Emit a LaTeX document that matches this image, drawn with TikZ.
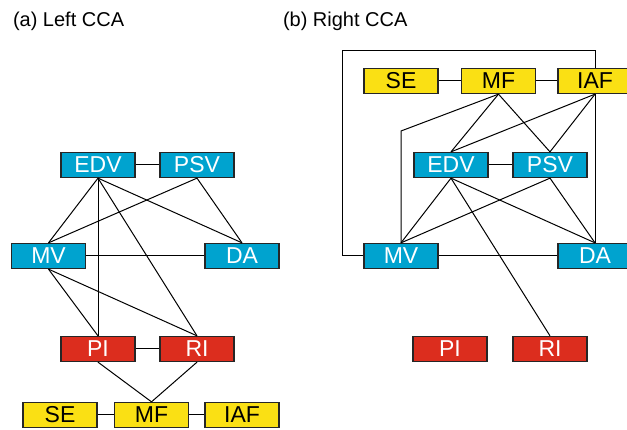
\documentclass[tikz,border=0pt]{standalone}
\usepackage{fontspec}
\setmainfont{Liberation Sans}
\definecolor{ccablue}{RGB}{0,163,207}
\definecolor{ccared}{RGB}{220,45,30}
\definecolor{ccayellow}{RGB}{250,224,20}

\begin{document}
\begin{tikzpicture}[x=1pt,y=1pt,line width=1pt]
\tikzstyle{every node}+=[inner sep=0pt]
\tikzstyle{cbox}=[draw=black!85,line width=1.3pt,minimum width=74pt,minimum height=25pt,font=\fontsize{23}{24}\selectfont]
\tikzstyle{bluebox}=[cbox,fill=ccablue,text=white]
\tikzstyle{redbox}=[cbox,fill=ccared,text=white]
\tikzstyle{yellowbox}=[cbox,fill=ccayellow,text=black]
\useasboundingbox (0,0) rectangle (627,-430);
\node [anchor=base west,font=\fontsize{20}{24}\selectfont] (ttla) at (12.5,-26.7) {(a) Left CCA};
\node [anchor=base west,font=\fontsize{20}{24}\selectfont] (ttlb) at (282.5,-26.7) {(b) Right CCA};
% (a) left
\node [bluebox] (edv) at (98,-165) {EDV};
\node [bluebox] (psv) at (197,-165) {PSV};
\node [bluebox] (mv) at (48.5,-256) {MV};
\node [bluebox] (da) at (242,-256) {DA};
\node [redbox] (pi) at (98,-349) {PI};
\node [redbox] (ri) at (197,-349) {RI};
\node [yellowbox] (se) at (60,-415) {SE};
\node [yellowbox] (mf) at (151.5,-415) {MF};
\node [yellowbox] (iaf) at (242,-415) {IAF};
\draw (edv) -- (psv);
\draw (mv) -- (da);
\draw (pi) -- (ri);
\draw (se) -- (mf);
\draw (mf) -- (iaf);
\draw (edv.south) -- (mv.north);
\draw (edv.south) -- (pi.north);
\draw (edv.south) -- (ri.north);
\draw (edv.south) -- (da.north);
\draw (psv.south) -- (mv.north);
\draw (psv.south) -- (da.north);
\draw (mv.south) -- (pi.north);
\draw (mv.south) -- (ri.north);
\draw (pi.south) -- (mf.north);
\draw (ri.south) -- (mf.north);
% (b) right
\node [yellowbox] (se2) at (401,-81) {SE};
\node [yellowbox] (mf2) at (498.5,-81) {MF};
\node [yellowbox] (iaf2) at (595,-81) {IAF};
\node [bluebox] (edv2) at (451,-165) {EDV};
\node [bluebox] (psv2) at (550,-165) {PSV};
\node [bluebox] (mv2) at (401,-256) {MV};
\node [bluebox] (da2) at (595,-256) {DA};
\node [redbox] (pi2) at (450,-349) {PI};
\node [redbox] (ri2) at (550,-349) {RI};
\coordinate (frame) at (342,-51);
\coordinate (bend) at (401,-131);
\draw (se2) -- (mf2);
\draw (mf2) -- (iaf2);
\draw (edv2) -- (psv2);
\draw (mv2) -- (da2);
\draw (iaf2.north) |- (frame) |- (mv2.west);
\draw (mf2.south) -- (bend) -- (mv2.north);
\draw (mf2.south) -- (edv2.north);
\draw (mf2.south) -- (psv2.north);
\draw (iaf2.south) -- (edv2.north);
\draw (iaf2.south) -- (psv2.north);
\draw (iaf2.south) -- (da2.north);
\draw (edv2.south) -- (mv2.north);
\draw (edv2.south) -- (da2.north);
\draw (edv2.south) -- (ri2.north);
\draw (psv2.south) -- (mv2.north);
\draw (psv2.south) -- (da2.north);
\end{tikzpicture}
\end{document}
